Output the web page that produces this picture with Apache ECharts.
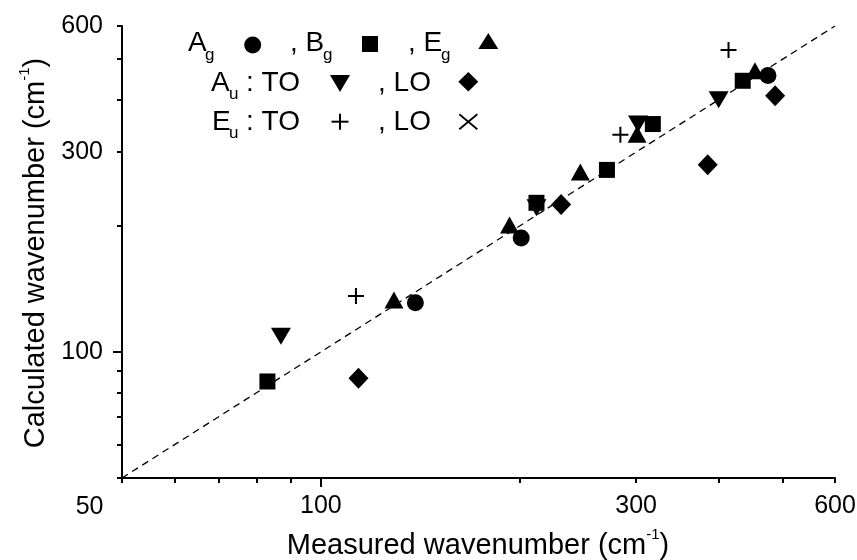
<!DOCTYPE html>
<html>
<head>
<meta charset="utf-8">
<script src="https://cdn.jsdelivr.net/npm/echarts@6/dist/echarts.min.js"></script>
<style>
  html, body { margin: 0; padding: 0; background: #fff; }
  #chart { width: 857px; height: 560px; }
</style>
</head>
<body>
<div id="chart"></div>
<script>
// Measured vs calculated phonon wavenumbers (cm^-1), by mode symmetry
const agMeasured   = [139, 201, 475];
const agCalculated = [131, 187, 457];

const bgMeasured   = [83, 212, 271, 318, 435];
const bgCalculated = [85, 227, 272, 350, 444];

const egMeasured   = [129, 193, 247, 301, 454];
const egCalculated = [133, 201, 269, 331, 469];

const auToMeasured   = [87, 212, 302, 400];
const auToCalculated = [109, 221, 350, 400];

const auLoMeasured   = [114, 231, 385, 487];
const auLoCalculated = [86.5, 225, 280, 409];

const euToMeasured   = [113, 284, 414];
const euToCalculated = [136, 330, 526];

const euLoMeasured   = [];
const euLoCalculated = [];

// y = x reference line end points
const diagonal = [50, 600];

// axis range, ticks and labels (same for both axes)
const axisRange   = [50, 600];
const tickValues  = [50, 60, 70, 80, 90, 100, 200, 300, 400, 500, 600];
const decadeTicks = [100];
const labelValues = [100, 300, 600];
const cornerLabel = '50';

const lg = Math.log10;
const FONT = "'Liberation Sans', Arial, Helvetica, sans-serif";

function pairs(xs, ys) {
  return xs.map((x, i) => [lg(x), lg(ys[i])]);
}

function axisPair(dim, main) {
  return {
    type: 'value',
    gridIndex: 0,
    position: dim === 'x' ? 'bottom' : 'left',
    min: lg(axisRange[0]),
    max: lg(axisRange[1]),
    splitLine: { show: false },
    axisLine: { show: main, onZero: false, lineStyle: { color: '#000', width: 2 } },
    axisTick: {
      show: true,
      inside: false,
      length: main ? 5 : 9,
      lineStyle: { color: '#000', width: 2 },
      customValues: (main ? tickValues : decadeTicks).map(lg)
    },
    axisLabel: {
      show: main,
      customValues: labelValues.map(lg),
      formatter: v => String(Math.round(Math.pow(10, v))),
      color: '#000',
      fontFamily: FONT,
      fontSize: 25,
      margin: dim === 'x' ? 16 : 19
    },
    silent: true
  };
}

const chart = echarts.init(document.getElementById('chart'), null, { renderer: 'canvas' });

const blackItem = { color: '#000', opacity: 1 };

const option = {
  animation: false,
  backgroundColor: '#fff',
  grid: { left: 122, right: 22, top: 26, bottom: 82, containLabel: false, outerBoundsMode: 'none' },
  xAxis: [axisPair('x', true), axisPair('x', false)],
  yAxis: [axisPair('y', true), axisPair('y', false)],
  series: [
    {
      type: 'line',
      data: diagonal.map(v => [lg(v), lg(v)]),
      symbol: 'none',
      lineStyle: { color: '#000', width: 1.3, type: [7, 5], opacity: 1 },
      z: 1,
      silent: true
    },
    {
      name: 'Ag', type: 'scatter', data: pairs(agMeasured, agCalculated),
      symbol: 'circle', symbolSize: 17, itemStyle: blackItem, z: 6
    },
    {
      name: 'Bg', type: 'scatter', data: pairs(bgMeasured, bgCalculated),
      symbol: 'rect', symbolSize: 16, itemStyle: blackItem, z: 4
    },
    {
      name: 'Eg', type: 'scatter', data: pairs(egMeasured, egCalculated),
      symbol: 'triangle', symbolSize: [19, 17], itemStyle: blackItem, z: 5
    },
    {
      name: 'Au TO', type: 'scatter', data: pairs(auToMeasured, auToCalculated),
      symbol: 'triangle', symbolRotate: 180, symbolSize: [20, 17], itemStyle: blackItem, z: 3
    },
    {
      name: 'Au LO', type: 'scatter', data: pairs(auLoMeasured, auLoCalculated),
      symbol: 'diamond', symbolSize: [20, 21], itemStyle: blackItem, z: 3
    },
    {
      name: 'Eu TO', type: 'scatter', data: pairs(euToMeasured, euToCalculated),
      symbol: 'path://M8,0V16M0,8H16', symbolSize: 16,
      itemStyle: { color: 'rgba(0,0,0,0)', borderColor: '#000', borderWidth: 2, opacity: 1 }, z: 3
    },
    {
      name: 'Eu LO', type: 'scatter', data: pairs(euLoMeasured, euLoCalculated),
      symbol: 'path://M0,0L16,16M16,0L0,16', symbolSize: [18, 15],
      itemStyle: { color: 'rgba(0,0,0,0)', borderColor: '#000', borderWidth: 1.8, opacity: 1 }, z: 3
    }
  ],
  graphic: { elements: buildGraphics() }
};

function txt(x, y, text, size, align) {
  return {
    type: 'text', x: x, y: y, silent: true,
    style: {
      text: text, fill: '#000', font: size + 'px ' + FONT,
      align: align || 'left', textAlign: align || 'left',
      verticalAlign: 'middle', textVerticalAlign: 'middle'
    }
  };
}

function buildGraphics() {
  const els = [];
  const main = 28, sub = 17, subDrop = 11.5;

  // legend rows: capital centre lines
  const r1 = 43.7, r2 = 83, r3 = 122;

  // row 1: A_g ●, B_g ■, E_g ▲
  els.push(txt(188, r1, 'A', main), txt(205, r1 + subDrop, 'g', sub));
  els.push(txt(290, r1, ', B', main), txt(323, r1 + subDrop, 'g', sub));
  els.push(txt(408, r1, ', E', main), txt(441, r1 + subDrop, 'g', sub));
  els.push({ type: 'circle', silent: true, shape: { cx: 252.7, cy: 45, r: 8.5 }, style: { fill: '#000' } });
  els.push({ type: 'rect', silent: true, shape: { x: 362, y: 36, width: 16, height: 16 }, style: { fill: '#000' } });
  els.push({ type: 'polygon', silent: true, shape: { points: [[488.3, 33], [498.3, 49], [478.3, 49]] }, style: { fill: '#000' } });

  // row 2: A_u : TO ▼, LO ◆
  els.push(txt(211, r2, 'A', main), txt(229, r2 + subDrop, 'u', sub));
  els.push(txt(246, r2, ': TO', main), txt(378, r2, ', LO', main));
  els.push({ type: 'polygon', silent: true, shape: { points: [[330, 75], [350, 75], [340, 92]] }, style: { fill: '#000' } });
  els.push({ type: 'polygon', silent: true, shape: { points: [[468.3, 72], [478.3, 81.7], [468.3, 91.4], [458.3, 81.7]] }, style: { fill: '#000' } });

  // row 3: E_u : TO +, LO ×
  els.push(txt(212, r3, 'E', main), txt(229, r3 + subDrop, 'u', sub));
  els.push(txt(246, r3, ': TO', main), txt(378, r3, ', LO', main));
  els.push({ type: 'polyline', silent: true, shape: { points: [[340, 113.7], [340, 129.7]] }, style: { stroke: '#000', lineWidth: 2, fill: null } });
  els.push({ type: 'polyline', silent: true, shape: { points: [[331.5, 121.7], [348.5, 121.7]] }, style: { stroke: '#000', lineWidth: 2, fill: null } });
  els.push({ type: 'polyline', silent: true, shape: { points: [[459.3, 114.2], [477.3, 129.2]] }, style: { stroke: '#000', lineWidth: 1.8, fill: null } });
  els.push({ type: 'polyline', silent: true, shape: { points: [[477.3, 114.2], [459.3, 129.2]] }, style: { stroke: '#000', lineWidth: 1.8, fill: null } });

  // shared corner label of both axes
  els.push(txt(103.5, 506.7, cornerLabel, 25, 'right'));

  // axis titles with superscript units
  const rich = {
    t: { fontSize: 29, fontFamily: FONT, fill: '#000', color: '#000' },
    s: { fontSize: 15, fontFamily: FONT, fill: '#000', color: '#000', padding: [0, 0, 22, 0] }
  };
  els.push({
    type: 'text', x: 478, y: 545.5, silent: true,
    style: {
      text: '{t|Measured wavenumber (cm}{s|-1}{t|)}', rich: rich,
      align: 'center', textAlign: 'center', verticalAlign: 'middle', textVerticalAlign: 'middle'
    }
  });
  els.push({
    type: 'text', x: 36, y: 253, rotation: Math.PI / 2, silent: true,
    style: {
      text: '{t|Calculated wavenumber (cm}{s|-1}{t|)}', rich: rich,
      align: 'center', textAlign: 'center', verticalAlign: 'middle', textVerticalAlign: 'middle'
    }
  });
  return els;
}

chart.setOption(option);
</script>
</body>
</html>
